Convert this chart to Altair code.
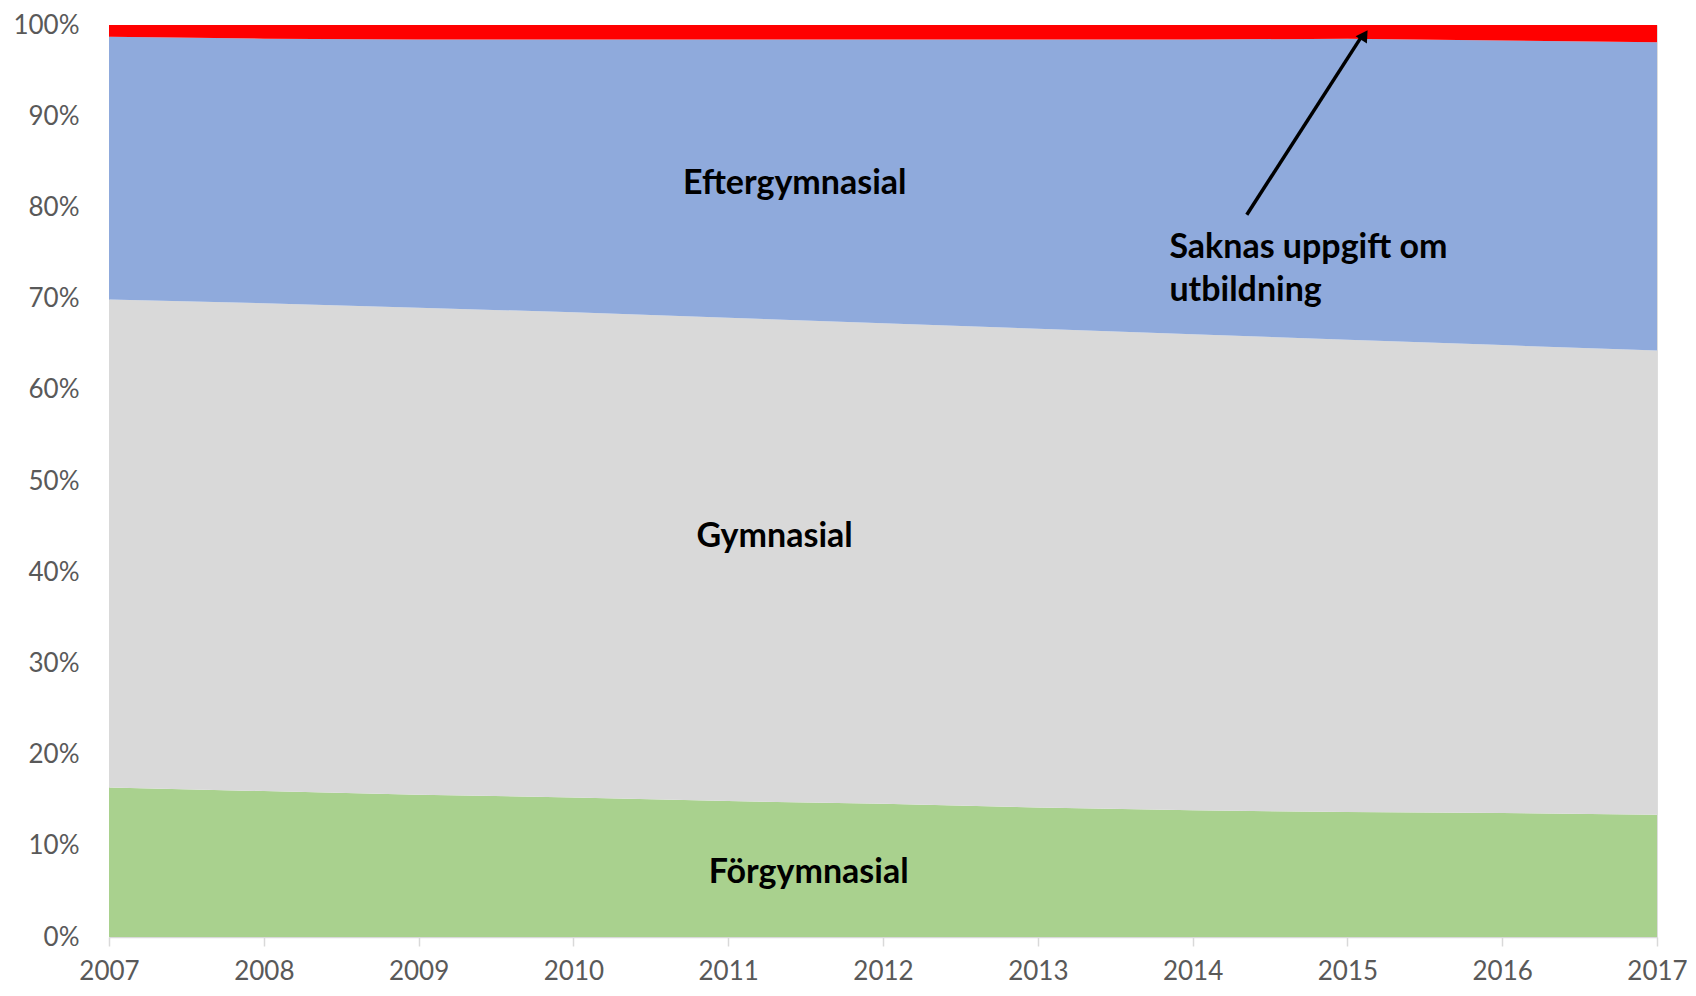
import altair as alt
import pandas as pd

years = [2007, 2008, 2009, 2010, 2011, 2012, 2013, 2014, 2015, 2016, 2017]
forgymnasial = [16.4, 16.0, 15.6, 15.3, 14.9, 14.6, 14.2, 13.9, 13.7, 13.6, 13.4]
gymnasial_cum = [69.9, 69.5, 69.0, 68.5, 67.9, 67.3, 66.7, 66.1, 65.5, 64.9, 64.3]
saknas = [1.3, 1.5, 1.6, 1.6, 1.6, 1.6, 1.6, 1.6, 1.5, 1.7, 1.9]
gymnasial = [round(g - f, 2) for g, f in zip(gymnasial_cum, forgymnasial)]
eftergymnasial = [round(100 - s - g, 2) for s, g in zip(saknas, gymnasial_cum)]

series = ["Förgymnasial", "Gymnasial", "Eftergymnasial", "Saknas uppgift om utbildning"]
colors = ["#A9D18E", "#D9D9D9", "#8FAADC", "#FF0000"]
values = [forgymnasial, gymnasial, eftergymnasial, saknas]

rows = []
for i, (name, vals) in enumerate(zip(series, values)):
    for y, v in zip(years, vals):
        rows.append({"year": y, "serie": name, "value": v, "ord": i})
df = pd.DataFrame(rows)

W, H = 1548, 912
xscale = alt.Scale(domain=[2007, 2017], nice=False, zero=False)
yscale = alt.Scale(domain=[0, 1], nice=False)

area = alt.Chart(df).mark_area(opacity=1).encode(
    x=alt.X("year:Q", scale=xscale,
            axis=alt.Axis(values=years, format="d", title=None, grid=False,
                          domainColor="#D9D9D9", domainWidth=1.5, tickColor="#D9D9D9",
                          tickSize=9, tickWidth=1.5, labelPadding=12, labelFlush=False,
                          labelOverlap=False,
                          labelFontSize=26, labelColor="#595959", labelFont="Lato")),
    y=alt.Y("value:Q", stack="normalize", scale=yscale,
            axis=alt.Axis(values=[i / 10 for i in range(11)], format=".0%", title=None,
                          grid=False, domain=False, ticks=False, labelPadding=30,
                          labelFontSize=26, labelColor="#595959", labelFont="Lato")),
    color=alt.Color("serie:N", scale=alt.Scale(domain=series, range=colors), legend=None),
    order=alt.Order("ord:Q", sort="ascending"),
)

labels = pd.DataFrame({
    "x": [2011.43, 2011.30, 2011.52],
    "y": [0.826, 0.439, 0.070],
    "t": ["Eftergymnasial", "Gymnasial", "Förgymnasial"],
})
text = alt.Chart(labels).mark_text(font="Lato", fontWeight="bold", fontSize=34,
                                    color="black", align="center", baseline="middle").encode(
    x=alt.X("x:Q", scale=xscale), y=alt.Y("y:Q", scale=yscale), text="t:N")

ann = pd.DataFrame({"x": [2013.85], "y": [0.755], "t": [["Saknas uppgift om", "utbildning"]]})
ann_text = alt.Chart(ann).mark_text(font="Lato", fontWeight="bold", fontSize=34, color="black",
                                    align="left", baseline="middle", lineHeight=43).encode(
    x=alt.X("x:Q", scale=xscale), y=alt.Y("y:Q", scale=yscale), text="t")

arrow = pd.DataFrame({"x": [2014.35], "y": [0.792], "x2": [2015.09], "y2": [0.987]})
arrow_line = alt.Chart(arrow).mark_rule(color="black", strokeWidth=3.5).encode(
    x=alt.X("x:Q", scale=xscale), y=alt.Y("y:Q", scale=yscale), x2="x2:Q", y2="y2:Q")

head = pd.DataFrame({"x": [2015.11], "y": [0.989]})
arrow_head = alt.Chart(head).mark_point(shape="triangle-up", filled=True, color="black",
                                         size=180, angle=33, opacity=1).encode(
    x=alt.X("x:Q", scale=xscale), y=alt.Y("y:Q", scale=yscale))

chart = alt.layer(area, text, ann_text, arrow_line, arrow_head).properties(
    width=W, height=H,
    autosize=alt.AutoSizeParams(type="none"),
    padding={"left": 101, "top": 17, "right": 30, "bottom": 51},
).configure_view(stroke=None).configure(background="white")

chart.save("out.html", embed_options={"renderer": "svg", "actions": False})
